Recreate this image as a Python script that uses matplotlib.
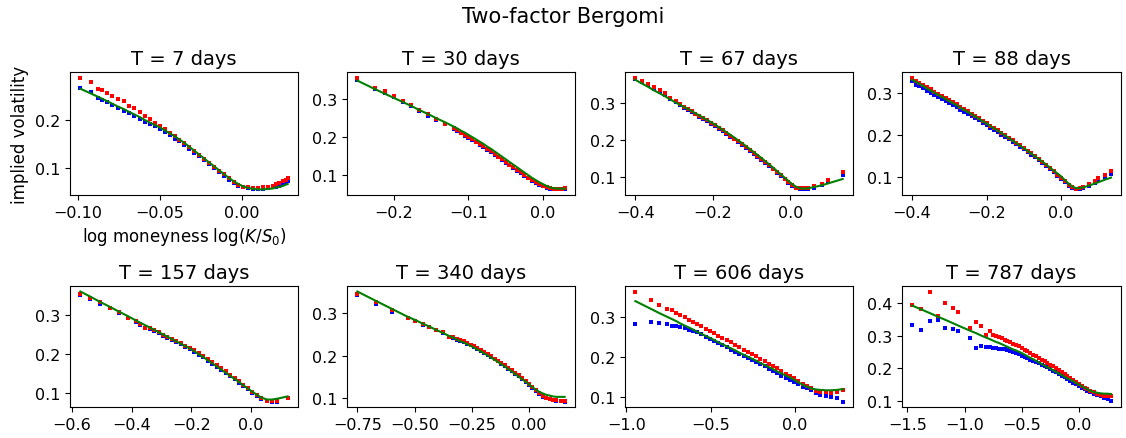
import matplotlib
matplotlib.use("Agg")
import matplotlib.pyplot as plt
from matplotlib.ticker import MultipleLocator

# ---------------- data ----------------
maturities = [7, 30, 67, 88, 157, 340, 606, 787]

x_7 = [-0.0985, -0.092, -0.0875, -0.085, -0.082, -0.079, -0.0755, -0.072, -0.0687, -0.0656,
       -0.062, -0.059, -0.056, -0.053, -0.050, -0.047, -0.044, -0.041, -0.038, -0.035,
       -0.032, -0.029, -0.026, -0.023, -0.020, -0.017, -0.014, -0.011, -0.008, -0.005,
       -0.002, 0.001, 0.004, 0.007, 0.010, 0.013, 0.016, 0.019, 0.021, 0.023,
       0.025, 0.027, 0.028]
bid_7 = [0.265, 0.258, 0.244, 0.240, 0.236, 0.231, 0.225, 0.219, 0.213, 0.208,
         0.202, 0.196, 0.191, 0.186, 0.180, 0.174, 0.168, 0.161, 0.155, 0.148,
         0.140, 0.132, 0.124, 0.116, 0.108, 0.100, 0.092, 0.084, 0.076, 0.069,
         0.064, 0.060, 0.058, 0.057, 0.057, 0.057, 0.058, 0.060, 0.062, 0.064,
         0.067, 0.070, 0.073]
ask_7 = [0.287, 0.278, 0.264, 0.261, 0.256, 0.250, 0.243, 0.238, 0.229, 0.224,
         0.215, 0.208, 0.201, 0.194, 0.187, 0.180, 0.173, 0.166, 0.159, 0.151,
         0.143, 0.135, 0.127, 0.119, 0.111, 0.103, 0.095, 0.087, 0.079, 0.072,
         0.066, 0.062, 0.060, 0.059, 0.059, 0.060, 0.061, 0.064, 0.067, 0.070,
         0.073, 0.076, 0.079]
model_7 = [0.264, 0.254, 0.247, 0.243, 0.238, 0.233, 0.227, 0.222, 0.216, 0.211,
           0.205, 0.199, 0.194, 0.189, 0.184, 0.178, 0.172, 0.166, 0.159, 0.152,
           0.144, 0.136, 0.128, 0.120, 0.112, 0.104, 0.096, 0.088, 0.080, 0.073,
           0.067, 0.062, 0.059, 0.057, 0.056, 0.056, 0.057, 0.058, 0.060, 0.061,
           0.063, 0.066, 0.067]

x_30 = [-0.249, -0.225, -0.212, -0.200, -0.188, -0.177, -0.166, -0.154, -0.143, -0.131, -0.120,
        -0.115, -0.110, -0.105, -0.100, -0.095, -0.090, -0.085, -0.080, -0.075, -0.070,
        -0.065, -0.060, -0.055, -0.050, -0.045, -0.040, -0.035, -0.030, -0.025, -0.020,
        -0.015, -0.010, -0.005, 0.000, 0.005, 0.010, 0.015, 0.020, 0.025, 0.029]
bid_30 = [0.352, 0.327, 0.318, 0.306, 0.293, 0.282, 0.270, 0.257, 0.246, 0.234, 0.221,
          0.216, 0.210, 0.204, 0.198, 0.192, 0.186, 0.180, 0.173, 0.167, 0.160,
          0.153, 0.146, 0.139, 0.132, 0.125, 0.118, 0.111, 0.104, 0.097, 0.090,
          0.084, 0.078, 0.073, 0.069, 0.066, 0.063, 0.062, 0.061, 0.062, 0.063]
ask_30 = [0.358, 0.331, 0.322, 0.310, 0.296, 0.285, 0.273, 0.260, 0.249, 0.236, 0.224,
          0.218, 0.212, 0.206, 0.200, 0.194, 0.188, 0.182, 0.175, 0.169, 0.162,
          0.155, 0.148, 0.141, 0.134, 0.127, 0.120, 0.113, 0.106, 0.099, 0.092,
          0.086, 0.080, 0.075, 0.071, 0.068, 0.065, 0.063, 0.062, 0.063, 0.064]
model_30 = [0.350, 0.327, 0.315, 0.304, 0.293, 0.283, 0.272, 0.261, 0.250, 0.239, 0.228,
            0.223, 0.217, 0.212, 0.206, 0.200, 0.194, 0.188, 0.182, 0.175, 0.169,
            0.162, 0.155, 0.148, 0.141, 0.134, 0.127, 0.120, 0.113, 0.106, 0.099,
            0.092, 0.086, 0.080, 0.075, 0.070, 0.066, 0.064, 0.063, 0.063, 0.063]

x_67 = [-0.400, -0.383, -0.367, -0.351, -0.336, -0.324, -0.311, -0.296,
        -0.285, -0.275, -0.265, -0.255, -0.245, -0.235, -0.225, -0.215, -0.205, -0.195,
        -0.185, -0.175, -0.165, -0.155, -0.145, -0.135, -0.125, -0.115, -0.105, -0.095,
        -0.085, -0.075, -0.065, -0.055, -0.045, -0.035, -0.025, -0.015, -0.005, 0.005,
        0.015, 0.025, 0.035, 0.045, 0.060, 0.081, 0.097, 0.135]
bid_67 = [0.364, 0.355, 0.347, 0.338, 0.330, 0.322, 0.311, 0.301,
          0.293, 0.287, 0.281, 0.275, 0.269, 0.263, 0.257, 0.250, 0.244, 0.237,
          0.230, 0.223, 0.216, 0.209, 0.202, 0.194, 0.187, 0.179, 0.171, 0.163,
          0.155, 0.147, 0.138, 0.130, 0.121, 0.112, 0.103, 0.094, 0.085, 0.076,
          0.070, 0.067, 0.067, 0.068, 0.072, 0.078, 0.087, 0.106]
ask_67 = [0.368, 0.359, 0.352, 0.343, 0.335, 0.327, 0.314, 0.305,
          0.296, 0.290, 0.284, 0.277, 0.271, 0.265, 0.259, 0.253, 0.246, 0.240,
          0.233, 0.226, 0.219, 0.212, 0.204, 0.197, 0.189, 0.181, 0.173, 0.165,
          0.157, 0.149, 0.140, 0.132, 0.123, 0.114, 0.105, 0.096, 0.087, 0.078,
          0.072, 0.070, 0.070, 0.071, 0.075, 0.081, 0.091, 0.114]
model_67 = [0.362, 0.352, 0.343, 0.333, 0.325, 0.318, 0.310, 0.301,
            0.295, 0.289, 0.284, 0.278, 0.272, 0.266, 0.260, 0.254, 0.248, 0.242,
            0.235, 0.228, 0.221, 0.214, 0.207, 0.199, 0.192, 0.184, 0.176, 0.168,
            0.160, 0.152, 0.143, 0.135, 0.126, 0.117, 0.108, 0.099, 0.090, 0.081,
            0.074, 0.070, 0.069, 0.070, 0.073, 0.078, 0.083, 0.095]

x_88 = [-0.40, -0.39, -0.38, -0.37, -0.36, -0.35, -0.34, -0.33, -0.32, -0.31,
        -0.30, -0.29, -0.28, -0.27, -0.26, -0.25, -0.24, -0.23, -0.22, -0.21,
        -0.20, -0.19, -0.18, -0.17, -0.16, -0.15, -0.14, -0.13, -0.12, -0.11,
        -0.10, -0.09, -0.08, -0.07, -0.06, -0.05, -0.04, -0.03, -0.02, -0.01,
        0.00, 0.01, 0.02, 0.03, 0.04, 0.05, 0.06, 0.075, 0.09, 0.10,
        0.117, 0.134]
bid_88 = [0.328, 0.318, 0.315, 0.311, 0.305, 0.300, 0.295, 0.290, 0.285, 0.280,
          0.275, 0.270, 0.265, 0.260, 0.255, 0.250, 0.245, 0.239, 0.234, 0.228,
          0.223, 0.217, 0.212, 0.206, 0.200, 0.195, 0.189, 0.183, 0.177, 0.171,
          0.165, 0.159, 0.152, 0.146, 0.139, 0.133, 0.126, 0.119, 0.111, 0.103,
          0.095, 0.087, 0.079, 0.073, 0.070, 0.071, 0.074, 0.079, 0.086, 0.092,
          0.100, 0.106]
ask_88 = [0.336, 0.329, 0.324, 0.319, 0.313, 0.308, 0.302, 0.297, 0.292, 0.287,
          0.282, 0.277, 0.272, 0.266, 0.261, 0.256, 0.250, 0.245, 0.239, 0.233,
          0.228, 0.222, 0.216, 0.211, 0.205, 0.199, 0.193, 0.187, 0.181, 0.175,
          0.169, 0.162, 0.156, 0.149, 0.142, 0.135, 0.128, 0.121, 0.113, 0.105,
          0.097, 0.089, 0.081, 0.075, 0.072, 0.073, 0.076, 0.082, 0.090, 0.096,
          0.104, 0.114]
model_88 = [0.331, 0.326, 0.321, 0.316, 0.310, 0.305, 0.300, 0.295, 0.290, 0.285,
            0.280, 0.275, 0.270, 0.264, 0.259, 0.254, 0.249, 0.243, 0.238, 0.232,
            0.227, 0.221, 0.215, 0.210, 0.204, 0.198, 0.192, 0.186, 0.180, 0.174,
            0.168, 0.162, 0.155, 0.149, 0.142, 0.136, 0.129, 0.122, 0.115, 0.108,
            0.101, 0.092, 0.084, 0.077, 0.073, 0.073, 0.075, 0.079, 0.084, 0.087,
            0.093, 0.098]

x_157 = [-0.572, -0.539, -0.505, -0.474, -0.444, -0.413, -0.384, -0.371, -0.356,
         -0.340, -0.325, -0.310, -0.295, -0.280, -0.265, -0.250, -0.235, -0.220, -0.205,
         -0.190, -0.175, -0.160, -0.145, -0.130, -0.115, -0.100, -0.085, -0.070, -0.055,
         -0.040, -0.025, -0.010, 0.005, 0.020, 0.035, 0.054, 0.070, 0.087, 0.123]
bid_157 = [0.352, 0.341, 0.329, 0.318, 0.307, 0.292, 0.282, 0.275, 0.267,
           0.266, 0.260, 0.254, 0.248, 0.242, 0.237, 0.231, 0.226, 0.220, 0.214,
           0.207, 0.199, 0.192, 0.184, 0.176, 0.168, 0.160, 0.152, 0.144, 0.136,
           0.127, 0.118, 0.110, 0.101, 0.093, 0.086, 0.080, 0.079, 0.079, 0.088]
ask_157 = [0.355, 0.345, 0.333, 0.319, 0.308, 0.293, 0.285, 0.278, 0.268,
           0.268, 0.262, 0.256, 0.250, 0.244, 0.239, 0.233, 0.228, 0.222, 0.216,
           0.210, 0.203, 0.196, 0.188, 0.180, 0.172, 0.164, 0.156, 0.148, 0.140,
           0.131, 0.122, 0.113, 0.104, 0.095, 0.087, 0.081, 0.080, 0.080, 0.089]
model_157 = [0.361, 0.348, 0.334, 0.322, 0.310, 0.298, 0.286, 0.281, 0.275,
             0.269, 0.263, 0.257, 0.251, 0.245, 0.239, 0.233, 0.227, 0.221, 0.215,
             0.208, 0.200, 0.193, 0.185, 0.177, 0.169, 0.161, 0.153, 0.145, 0.137,
             0.129, 0.120, 0.112, 0.104, 0.096, 0.089, 0.084, 0.084, 0.086, 0.092]

x_340 = [-0.750, -0.670, -0.600, -0.530, -0.500, -0.465, -0.436, -0.406, -0.377, -0.351,
         -0.330, -0.315, -0.300, -0.285, -0.270, -0.255, -0.240, -0.225, -0.210, -0.195,
         -0.180, -0.165, -0.150, -0.135, -0.120, -0.105, -0.090, -0.075, -0.060, -0.045,
         -0.030, -0.015, 0.000, 0.015, 0.030, 0.045, 0.061, 0.075, 0.091, 0.105,
         0.120, 0.140, 0.156]
bid_340 = [0.343, 0.323, 0.304, 0.289, 0.281, 0.273, 0.267, 0.260, 0.254, 0.244,
           0.241, 0.238, 0.235, 0.232, 0.228, 0.224, 0.220, 0.216, 0.211, 0.206,
           0.201, 0.196, 0.191, 0.186, 0.180, 0.175, 0.169, 0.163, 0.157, 0.151,
           0.144, 0.138, 0.131, 0.124, 0.116, 0.109, 0.102, 0.099, 0.097, 0.094,
           0.093, 0.092, 0.091]
ask_340 = [0.347, 0.327, 0.307, 0.290, 0.282, 0.274, 0.268, 0.261, 0.255, 0.245,
           0.243, 0.240, 0.237, 0.234, 0.230, 0.226, 0.222, 0.218, 0.213, 0.208,
           0.203, 0.198, 0.193, 0.188, 0.182, 0.177, 0.171, 0.165, 0.159, 0.153,
           0.146, 0.140, 0.133, 0.126, 0.118, 0.110, 0.103, 0.099, 0.096, 0.094,
           0.094, 0.093, 0.092]
model_340 = [0.352, 0.330, 0.311, 0.292, 0.285, 0.276, 0.269, 0.261, 0.254, 0.247,
             0.242, 0.238, 0.234, 0.231, 0.227, 0.223, 0.219, 0.214, 0.210, 0.205,
             0.200, 0.195, 0.190, 0.185, 0.179, 0.174, 0.168, 0.162, 0.156, 0.150,
             0.144, 0.138, 0.132, 0.125, 0.119, 0.114, 0.110, 0.107, 0.105, 0.103,
             0.102, 0.102, 0.102]

x_606 = [-0.947, -0.852, -0.805, -0.760,
         -0.730, -0.705, -0.680, -0.655, -0.630, -0.605, -0.580, -0.555, -0.530, -0.505,
         -0.480, -0.455, -0.430, -0.405, -0.380, -0.355, -0.330, -0.305, -0.280, -0.255,
         -0.230, -0.205, -0.180, -0.155, -0.130, -0.105, -0.080, -0.055, -0.030, -0.005,
         0.020, 0.045, 0.070, 0.095,
         0.126, 0.150, 0.185, 0.215, 0.250, 0.283]
bid_606 = [0.282, 0.288, 0.286, 0.282,
           0.279, 0.278, 0.276, 0.274, 0.269, 0.266, 0.262, 0.257, 0.251, 0.246,
           0.241, 0.235, 0.230, 0.225, 0.219, 0.214, 0.209, 0.203, 0.198, 0.193,
           0.188, 0.183, 0.177, 0.171, 0.166, 0.160, 0.154, 0.148, 0.143, 0.137,
           0.132, 0.126, 0.122, 0.118,
           0.111, 0.106, 0.102, 0.100, 0.098, 0.089]
ask_606 = [0.364, 0.342, 0.331, 0.321,
           0.317, 0.311, 0.306, 0.300, 0.294, 0.289, 0.283, 0.277, 0.271, 0.266,
           0.260, 0.254, 0.248, 0.243, 0.237, 0.231, 0.225, 0.219, 0.213, 0.208,
           0.202, 0.196, 0.190, 0.184, 0.178, 0.172, 0.165, 0.159, 0.153, 0.147,
           0.140, 0.133, 0.127, 0.122,
           0.116, 0.114, 0.112, 0.111, 0.112, 0.119]
model_606 = [0.340, 0.320, 0.310, 0.301,
             0.295, 0.290, 0.284, 0.279, 0.274, 0.269, 0.263, 0.258, 0.253, 0.248,
             0.243, 0.237, 0.232, 0.227, 0.222, 0.217, 0.211, 0.206, 0.201, 0.196,
             0.191, 0.185, 0.180, 0.175, 0.170, 0.164, 0.159, 0.154, 0.149, 0.143,
             0.137, 0.131, 0.126, 0.122,
             0.119, 0.118, 0.117, 0.117, 0.118, 0.120]

x_787 = [-1.460, -1.385, -1.306, -1.236, -1.169, -1.104, -1.053, -0.955, -0.899, -0.857,
         -0.810, -0.781,
         -0.750, -0.725, -0.700, -0.675, -0.650, -0.625, -0.600, -0.575, -0.550, -0.525,
         -0.500, -0.475, -0.450, -0.425, -0.400, -0.375, -0.350, -0.325, -0.300, -0.275,
         -0.250, -0.225, -0.200, -0.175, -0.150, -0.125, -0.100, -0.075, -0.050, -0.025,
         0.000, 0.025, 0.050, 0.075, 0.100,
         0.130, 0.160, 0.190, 0.220, 0.250, 0.281]
bid_787 = [0.334, 0.317, 0.346, 0.349, 0.324, 0.321, 0.314, 0.293, 0.261, 0.268,
           0.265, 0.265,
           0.262, 0.261, 0.260, 0.259, 0.258, 0.256, 0.253, 0.250, 0.246, 0.243,
           0.239, 0.235, 0.231, 0.227, 0.223, 0.219, 0.215, 0.211, 0.207, 0.203,
           0.198, 0.193, 0.188, 0.183, 0.177, 0.172, 0.167, 0.161, 0.156, 0.151,
           0.146, 0.141, 0.136, 0.131, 0.126,
           0.120, 0.117, 0.114, 0.110, 0.105, 0.098]
ask_787 = [0.395, 0.382, 0.436, 0.362, 0.402, 0.385, 0.372, 0.324, 0.341, 0.329,
           0.303, 0.314,
           0.303, 0.300, 0.296, 0.292, 0.288, 0.284, 0.280, 0.275, 0.271, 0.267,
           0.262, 0.257, 0.252, 0.247, 0.242, 0.237, 0.232, 0.227, 0.222, 0.217,
           0.211, 0.206, 0.200, 0.195, 0.189, 0.183, 0.177, 0.171, 0.165, 0.158,
           0.152, 0.146, 0.140, 0.135, 0.130,
           0.126, 0.121, 0.118, 0.116, 0.115, 0.114]
model_787 = [0.393, 0.382, 0.370, 0.359, 0.349, 0.339, 0.331, 0.316, 0.308, 0.301,
             0.294, 0.290,
             0.285, 0.281, 0.278, 0.274, 0.270, 0.266, 0.262, 0.258, 0.255, 0.251,
             0.247, 0.242, 0.237, 0.232, 0.228, 0.223, 0.218, 0.213, 0.208, 0.203,
             0.199, 0.194, 0.189, 0.184, 0.179, 0.174, 0.169, 0.165, 0.160, 0.155,
             0.150, 0.145, 0.140, 0.135, 0.131,
             0.127, 0.125, 0.123, 0.122, 0.122, 0.121]

panels = [
    (x_7, bid_7, ask_7, model_7),
    (x_30, bid_30, ask_30, model_30),
    (x_67, bid_67, ask_67, model_67),
    (x_88, bid_88, ask_88, model_88),
    (x_157, bid_157, ask_157, model_157),
    (x_340, bid_340, ask_340, model_340),
    (x_606, bid_606, ask_606, model_606),
    (x_787, bid_787, ask_787, model_787),
]
x_steps = [0.05, 0.1, 0.2, 0.2, 0.2, 0.25, 0.5, 0.5]

# ---------------- layout ----------------
W, H = 1126, 439
fig = plt.figure(figsize=(W / 100, H / 100), dpi=100)

lefts = [70, 347, 625, 902]
widths = [228, 228, 228, 219]
rows = [(73, 196), (287, 408)]  # (top, bottom) in pixels

TICK_FS = 11.5
for i, (T, (x, bid, ask, model)) in enumerate(zip(maturities, panels)):
    r, c = divmod(i, 4)
    top, bot = rows[r]
    ax = fig.add_axes([lefts[c] / W, 1 - bot / H, widths[c] / W, (bot - top) / H])
    ax.plot(x, bid, 's', color='b', markersize=2.5, markeredgewidth=0)
    ax.plot(x, ask, 's', color='r', markersize=2.5, markeredgewidth=0)
    ax.plot(x, model, '-', color='g', linewidth=1.5)
    ax.set_title(f"T = {T} days", fontsize=14)
    ax.xaxis.set_major_locator(MultipleLocator(x_steps[i]))
    ax.yaxis.set_major_locator(MultipleLocator(0.1))
    ax.tick_params(labelsize=TICK_FS)
    if i == 0:
        ax.set_xlabel(r"log moneyness log($K/S_0$)", fontsize=12)
        ax.set_ylabel("implied volatility", fontsize=12)

fig.suptitle("Two-factor Bergomi", fontsize=15, y=0.985, va='top')
fig.savefig("out.png", dpi=100)
